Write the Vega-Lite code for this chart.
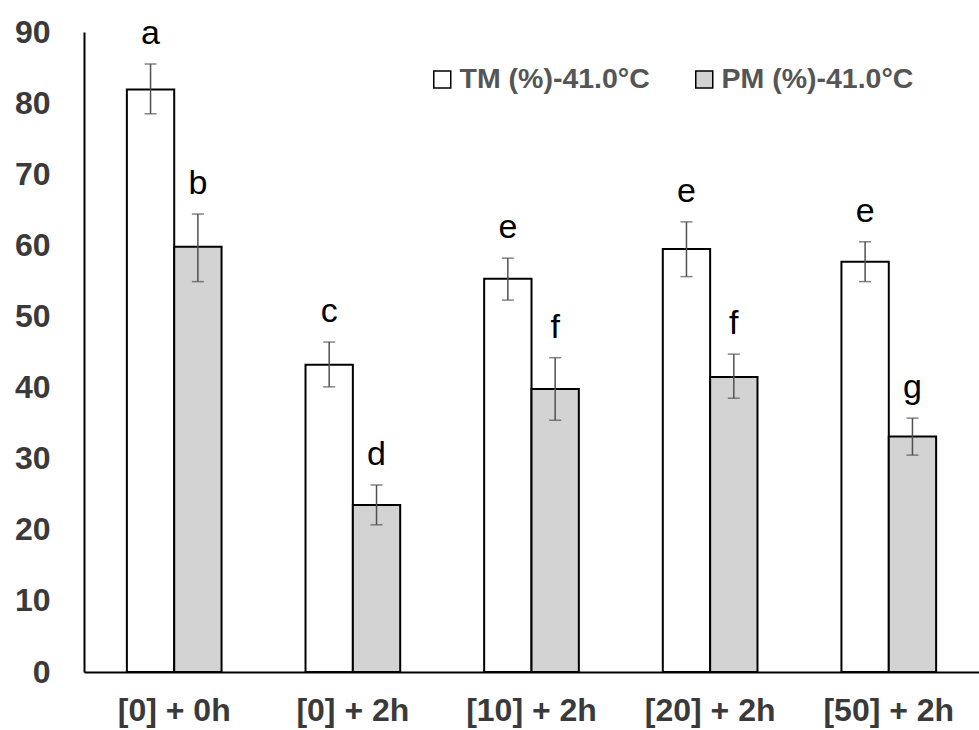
{
  "$schema": "https://vega.github.io/schema/vega-lite/v6.json",
  "width": 895,
  "height": 640,
  "autosize": {"type": "none"},
  "padding": {"left": 84, "top": 32, "right": 0, "bottom": 58},
  "background": "white",
  "config": {"view": {"stroke": null}, "font": "Liberation Sans"},
  "data": {
    "values": [
      {"cond": "[0] + 0h", "group": "TM (%)-41.0°C", "mean": 81.9, "lo": 78.5, "hi": 85.5, "letter": "a"},
      {"cond": "[0] + 0h", "group": "PM (%)-41.0°C", "mean": 59.8, "lo": 54.9, "hi": 64.4, "letter": "b"},
      {"cond": "[0] + 2h", "group": "TM (%)-41.0°C", "mean": 43.2, "lo": 40.1, "hi": 46.4, "letter": "c"},
      {"cond": "[0] + 2h", "group": "PM (%)-41.0°C", "mean": 23.5, "lo": 20.7, "hi": 26.3, "letter": "d"},
      {"cond": "[10] + 2h", "group": "TM (%)-41.0°C", "mean": 55.3, "lo": 52.3, "hi": 58.2, "letter": "e"},
      {"cond": "[10] + 2h", "group": "PM (%)-41.0°C", "mean": 39.8, "lo": 35.4, "hi": 44.2, "letter": "f"},
      {"cond": "[20] + 2h", "group": "TM (%)-41.0°C", "mean": 59.5, "lo": 55.6, "hi": 63.3, "letter": "e"},
      {"cond": "[20] + 2h", "group": "PM (%)-41.0°C", "mean": 41.5, "lo": 38.5, "hi": 44.7, "letter": "f"},
      {"cond": "[50] + 2h", "group": "TM (%)-41.0°C", "mean": 57.7, "lo": 54.9, "hi": 60.5, "letter": "e"},
      {"cond": "[50] + 2h", "group": "PM (%)-41.0°C", "mean": 33.1, "lo": 30.5, "hi": 35.7, "letter": "g"}
    ]
  },
  "encoding": {
    "x": {
      "field": "cond",
      "type": "nominal",
      "sort": null,
      "scale": {"paddingInner": 0.47, "paddingOuter": 0.24},
      "axis": {
        "title": null,
        "labelAngle": 0,
        "ticks": false,
        "grid": false,
        "domainColor": "black",
        "domainWidth": 2,
        "labelFont": "Liberation Sans",
        "labelFontSize": 32,
        "labelFontWeight": "bold",
        "labelColor": "#3a3a3a",
        "labelPadding": 23
      }
    },
    "xOffset": {
      "field": "group",
      "type": "nominal",
      "sort": ["TM (%)-41.0°C", "PM (%)-41.0°C"],
      "scale": {"paddingInner": 0, "paddingOuter": 0}
    }
  },
  "layer": [
    {
      "mark": {"type": "bar", "stroke": "black", "strokeWidth": 2},
      "encoding": {
        "y": {
          "field": "mean",
          "type": "quantitative",
          "title": null,
          "scale": {"domain": [0, 90], "nice": false},
          "axis": {
            "title": null,
            "values": [0, 10, 20, 30, 40, 50, 60, 70, 80, 90],
            "ticks": false,
            "grid": false,
            "domainColor": "black",
            "domainWidth": 2,
            "labelFont": "Liberation Sans",
            "labelFontSize": 32,
            "labelFontWeight": "bold",
            "labelColor": "#3a3a3a",
            "labelPadding": 34
          }
        },
        "fill": {
          "field": "group",
          "type": "nominal",
          "scale": {"domain": ["TM (%)-41.0°C", "PM (%)-41.0°C"], "range": ["white", "#d3d3d3"]},
          "legend": {
            "title": null,
            "orient": "none",
            "legendX": 344,
            "legendY": 33,
            "direction": "horizontal",
            "symbolType": "square",
            "symbolSize": 289,
            "symbolStrokeWidth": 1.5,
            "symbolStrokeColor": "black",
            "labelFont": "Liberation Sans",
            "labelFontSize": 28.5,
            "labelFontWeight": "bold",
            "labelColor": "#555555",
            "labelOffset": 3,
            "columnPadding": 40,
            "labelLimit": 400
          }
        }
      }
    },
    {
      "mark": {"type": "rule", "color": "#505050", "strokeWidth": 1.5},
      "encoding": {
        "y": {"field": "lo", "type": "quantitative", "title": null},
        "y2": {"field": "hi"}
      }
    },
    {
      "mark": {"type": "tick", "color": "#505050", "thickness": 1.5, "size": 12},
      "encoding": {
        "y": {"field": "lo", "type": "quantitative", "title": null}
      }
    },
    {
      "mark": {"type": "tick", "color": "#505050", "thickness": 1.5, "size": 12},
      "encoding": {
        "y": {"field": "hi", "type": "quantitative", "title": null}
      }
    },
    {
      "mark": {"type": "text", "baseline": "alphabetic", "dy": -20, "fontSize": 34, "font": "Liberation Sans", "color": "black"},
      "encoding": {
        "y": {"field": "hi", "type": "quantitative", "title": null},
        "text": {"field": "letter"}
      }
    }
  ]
}
